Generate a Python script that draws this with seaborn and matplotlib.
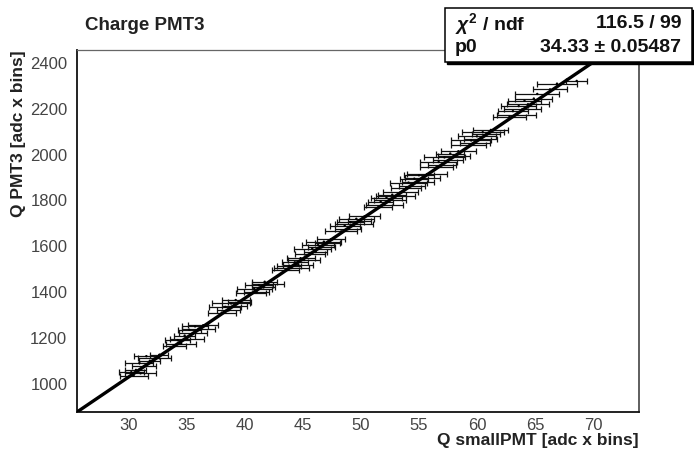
import numpy as np
import pandas as pd
import matplotlib
matplotlib.use("Agg")
import matplotlib.pyplot as plt
from matplotlib.patches import Rectangle
from matplotlib.ticker import MultipleLocator
import seaborn as sns

# ---------------- data ----------------
q_small = [30.2, 30.6, 31.0, 31.3, 30.9, 31.8, 32.2, 31.5, 32.6, 30.4,
           33.9, 34.5, 34.2, 35.0, 34.8, 35.5, 35.2, 36.0, 35.7, 36.4,
           38.0, 38.6, 38.3, 39.1, 38.8, 39.5, 39.2,
           40.5, 41.0, 40.8, 41.6, 41.2, 42.0, 41.7,
           43.5, 44.0, 43.8, 44.6, 44.3, 45.1, 44.8,
           45.6, 46.1, 45.8, 46.6, 46.3, 47.1, 46.8, 47.4,
           48.3, 48.9, 48.6, 49.4, 49.1, 49.9, 49.6, 50.3,
           51.5, 52.0, 51.7, 52.5, 52.2, 53.0, 52.7, 53.4,
           53.9, 54.4, 54.1, 54.9, 54.6, 55.3, 55.0, 55.7,
           56.5, 57.0, 56.7, 57.5, 57.2, 58.0, 57.7, 58.4,
           59.3, 59.8, 59.5, 60.3, 60.0, 60.8, 60.5, 61.2,
           62.8, 63.4, 63.1, 63.9, 63.6, 64.4, 64.1, 64.9, 65.2,
           66.3, 66.9, 68.6]
q_pmt3 = [1050, 1060, 1045, 1075, 1090, 1100, 1110, 1120, 1125, 1035,
          1165, 1175, 1190, 1195, 1210, 1220, 1235, 1240, 1250, 1255,
          1310, 1320, 1335, 1340, 1350, 1355, 1365,
          1395, 1400, 1415, 1420, 1430, 1435, 1445,
          1495, 1505, 1515, 1520, 1530, 1540, 1548,
          1565, 1575, 1590, 1595, 1605, 1612, 1620, 1630,
          1665, 1675, 1690, 1695, 1705, 1712, 1720, 1730,
          1770, 1780, 1795, 1800, 1812, 1818, 1825, 1835,
          1855, 1865, 1878, 1882, 1895, 1900, 1910, 1915,
          1945, 1955, 1968, 1975, 1988, 1995, 2005, 2015,
          2040, 2050, 2062, 2068, 2080, 2088, 2098, 2108,
          2165, 2175, 2190, 2198, 2212, 2220, 2235, 2245, 2265,
          2285, 2310, 2322]
x_err = [1.1, 0.9, 1.3, 1.0, 1.2, 0.9, 1.4, 1.1, 0.8, 1.2,
         1.0, 1.3, 1.1, 1.5, 0.9, 1.2, 1.0, 1.4, 1.1, 1.3,
         1.2, 1.0, 1.4, 1.1, 1.6, 1.0, 1.2,
         1.3, 1.1, 1.5, 1.0, 1.2, 1.4, 1.1,
         1.2, 1.5, 1.0, 1.3, 1.1, 1.4, 1.2,
         1.3, 1.0, 1.6, 1.2, 1.4, 1.1, 1.5, 1.2,
         1.4, 1.1, 1.3, 1.6, 1.2, 1.0, 1.5, 1.3,
         1.2, 1.6, 1.1, 1.4, 1.3, 1.7, 1.2, 1.5,
         1.3, 1.1, 1.6, 1.4, 1.2, 1.5, 1.3, 1.7,
         1.4, 1.2, 1.6, 1.3, 1.8, 1.4, 1.2, 1.5,
         1.5, 1.3, 1.7, 1.4, 1.6, 1.2, 1.8, 1.5,
         1.4, 1.7, 1.3, 1.6, 1.5, 1.8, 1.4, 1.6, 1.9,
         1.5, 1.7, 0.9]

p0 = 34.33
p0_err = 0.05487
chi2 = 116.5
ndf = 99

title = "Charge PMT3"
xlabel = "Q smallPMT [adc x bins]"
ylabel = "Q PMT3 [adc x bins]"
x_ticks = [30, 35, 40, 45, 50, 55, 60, 65, 70]
y_ticks = [1000, 1200, 1400, 1600, 1800, 2000, 2200, 2400]
x_limits = (25.52, 73.97)

df = pd.DataFrame({"x": q_small, "y": q_pmt3, "xerr": x_err})

# ---------------- figure ----------------
sns.set_theme(style="white")
plt.rcParams["font.family"] = ["Liberation Sans", "DejaVu Sans"]
plt.rcParams["mathtext.fontset"] = "custom"
plt.rcParams["mathtext.rm"] = "Liberation Sans:bold"
plt.rcParams["mathtext.it"] = "Liberation Sans:italic:bold"
plt.rcParams["mathtext.bf"] = "Liberation Sans:bold"

W, H = 694, 450
fig = plt.figure(figsize=(W / 100, H / 100), dpi=100)
ax = fig.add_axes([77 / W, 1 - 412 / H, (639 - 77) / W, (412 - 50) / H])

ax.errorbar(df["x"], df["y"], xerr=df["xerr"], fmt="none", ecolor="#111111",
            elinewidth=0.9, capsize=2.4, capthick=0.9, zorder=2)
sns.scatterplot(data=df, x="x", y="y", ax=ax, s=3, color="black",
                edgecolor="none", zorder=3, legend=False)

fit = pd.DataFrame({"x": list(x_limits)})
fit["y"] = p0 * fit["x"]
sns.lineplot(data=fit, x="x", y="y", ax=ax, color="black", linewidth=2.4,
             zorder=4)

ax.set_xlim(*x_limits)
ax.set_ylim(p0 * x_limits[0], 2457)
ax.set_xticks(x_ticks)
ax.set_yticks(y_ticks)
ax.xaxis.set_minor_locator(MultipleLocator(1))
ax.yaxis.set_minor_locator(MultipleLocator(50))
ax.tick_params(axis="both", which="both", direction="in", top=False,
               right=False, colors="#222222", labelcolor="#444444",
               labelsize=12)
ax.tick_params(axis="x", which="major", length=8, width=1.0, pad=4)
ax.tick_params(axis="x", which="minor", length=4.5, width=0.9)
ax.tick_params(axis="y", which="major", length=11, width=1.0, pad=7)
ax.tick_params(axis="y", which="minor", length=5.5, width=0.9)

for side in ["left", "bottom"]:
    ax.spines[side].set_color("#111111")
    ax.spines[side].set_linewidth(1.3)
ax.spines["top"].set_color("#666666")
ax.spines["top"].set_linewidth(0.9)
ax.spines["right"].set_color("#333333")
ax.spines["right"].set_linewidth(1.1)

ax.set_xlabel(xlabel, loc="right", fontsize=12.5, fontweight="bold",
              color="#222222")
ax.xaxis.set_label_coords(1.0, -(440 - 412) / (412 - 50))
ax.xaxis.label.set_va("center")
ax.set_ylabel(ylabel, loc="top", fontsize=12.5, fontweight="bold",
              color="#222222")
ax.yaxis.set_label_coords(-(77 - 19) / (639 - 77), 1.0)
ax.yaxis.label.set_va("center")

fig.text(85 / W, 1 - 25 / H, title, fontsize=13.5, fontweight="bold",
         color="#222222", ha="left", va="center")

# stats box
bx0, by0, bx1, by1 = 445, 8, 692, 62
fig.patches.append(Rectangle((bx0 / W + 2 / W, 1 - by1 / H - 2 / H),
                             (bx1 - bx0) / W, (by1 - by0) / H,
                             transform=fig.transFigure, facecolor="black",
                             edgecolor="black", zorder=5))
fig.patches.append(Rectangle((bx0 / W, 1 - by1 / H),
                             (bx1 - bx0) / W, (by1 - by0) / H,
                             transform=fig.transFigure, facecolor="white",
                             edgecolor="black", linewidth=1.1, zorder=6))
fs = 14
fig.text(455 / W, 1 - 24 / H, r"$\chi^{2}$ / ndf", fontsize=fs,
         fontweight="bold", ha="left", va="center", zorder=7, color="#111111")
fig.text(681 / W, 1 - 24 / H, f"{chi2} / {ndf}", fontsize=fs,
         fontweight="bold", ha="right", va="center", zorder=7, color="#111111")
fig.text(455 / W, 1 - 48 / H, "p0", fontsize=fs, fontweight="bold",
         ha="left", va="center", zorder=7, color="#111111")
fig.text(681 / W, 1 - 48 / H, f"{p0} \u00b1 {p0_err}", fontsize=fs,
         fontweight="bold", ha="right", va="center", zorder=7, color="#111111")

fig.savefig("out.png", dpi=100, facecolor="white")
